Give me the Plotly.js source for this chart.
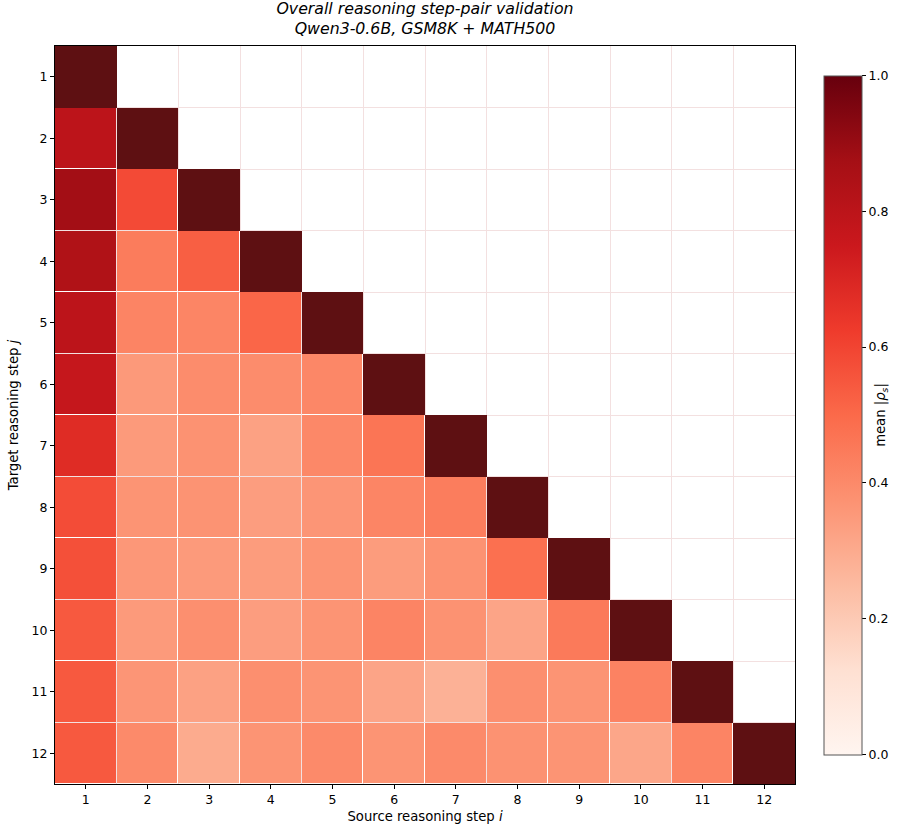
<!DOCTYPE html>
<html>
<head>
<meta charset="utf-8">
<script src="https://cdn.plot.ly/plotly-3.0.1.min.js"></script>
<style>html,body{margin:0;padding:0;background:#fff;}#chart{width:906px;height:829px;}</style>
</head>
<body>
<div id="chart"></div>
<script>
// Step labels
const sourceSteps = [1,2,3,4,5,6,7,8,9,10,11,12];
const targetSteps = [1,2,3,4,5,6,7,8,9,10,11,12];

// mean |rho_s| for each target step j (rows), source steps i < j (columns)
const row1  = [];
const row2  = [0.80];
const row3  = [0.88, 0.585];
const row4  = [0.84, 0.445, 0.53];
const row5  = [0.80, 0.42, 0.415, 0.51];
const row6  = [0.77, 0.355, 0.395, 0.395, 0.41];
const row7  = [0.68, 0.35, 0.375, 0.33, 0.405, 0.465];
const row8  = [0.58, 0.37, 0.373, 0.34, 0.365, 0.415, 0.44];
const row9  = [0.57, 0.36, 0.35, 0.345, 0.37, 0.345, 0.375, 0.48];
const row10 = [0.545, 0.35, 0.385, 0.34, 0.37, 0.42, 0.375, 0.32, 0.45];
const row11 = [0.545, 0.365, 0.33, 0.385, 0.37, 0.32, 0.28, 0.385, 0.37, 0.425];
const row12 = [0.545, 0.40, 0.30, 0.37, 0.40, 0.37, 0.40, 0.375, 0.37, 0.315, 0.42];

// Self-pair (diagonal) value
const diagValues = [1,1,1,1,1,1,1,1,1,1,1,1];

const rows = [row1,row2,row3,row4,row5,row6,row7,row8,row9,row10,row11,row12];
const n = sourceSteps.length;
const zLower = rows.map(r => sourceSteps.map((s, k) => k < r.length ? r[k] : null));
const zDiag = targetSteps.map((t, j) => sourceSteps.map((s, i) => i === j ? diagValues[j] : null));

const redsScale = [
  [0.0,'#fff5f0'],[0.125,'#fee0d2'],[0.25,'#fcbba1'],[0.375,'#fc9272'],
  [0.5,'#fb6a4a'],[0.625,'#ef3b2c'],[0.75,'#cb181d'],[0.875,'#a50f15'],[1.0,'#67000d']
];

const boundaries = [];
for (let k = 0; k <= n; k++) boundaries.push(k + 0.5);

const tickFont = {family: 'DejaVu Sans', size: 12.5, color: '#000'};
const labelFont = {family: 'DejaVu Sans', size: 13.2, color: '#000'};

const traces = [
  {
    type: 'heatmap', x: sourceSteps, y: targetSteps, z: zLower,
    colorscale: redsScale, zmin: 0, zmax: 1, xgap: 1, ygap: 1,
    hoverongaps: false,
    colorbar: {
      x: 1.039, xanchor: 'left', xref: 'paper', xpad: 0, ypad: 0,
      y: 0.5, yanchor: 'middle', len: 0.92, lenmode: 'fraction',
      thickness: 38, thicknessmode: 'pixels',
      outlinecolor: '#555', outlinewidth: 1,
      ticks: 'outside', ticklen: 4, tickcolor: '#000',
      tickvals: [0,0.2,0.4,0.6,0.8,1.0], ticktext: ['0.0','0.2','0.4','0.6','0.8','1.0'],
      tickfont: tickFont,
      title: {text: 'mean |<i>ρ<sub>s</sub></i>|', side: 'right', font: labelFont}
    }
  },
  {
    type: 'heatmap', x: sourceSteps, y: targetSteps, z: zDiag,
    colorscale: [[0,'#5e1012'],[1,'#5e1012']], zmin: 0, zmax: 1,
    showscale: false, xgap: 0, ygap: 0, hoverongaps: false
  }
];

const axisCommon = {
  tickmode: 'array', tickvals: sourceSteps, ticktext: sourceSteps.map(String),
  ticks: 'outside', ticklen: 4, tickcolor: '#000', tickwidth: 1,
  showgrid: false, zeroline: false,
  showline: true, linecolor: '#000', linewidth: 1, mirror: true,
  tickfont: tickFont,
  minor: {tickvals: boundaries, showgrid: true, gridcolor: '#f3e0e0', gridwidth: 1, ticks: ''}
};

const layout = {
  width: 906, height: 829,
  margin: {l: 55, r: 111, t: 46, b: 45, autoexpand: false},
  paper_bgcolor: '#fff', plot_bgcolor: '#fff',
  font: {family: 'DejaVu Sans', color: '#000'},
  title: {
    text: '<i>Overall reasoning step-pair validation</i><br><i>Qwen3-0.6B, GSM8K + MATH500</i>',
    font: {family: 'DejaVu Sans', size: 15.75, color: '#000'},
    x: 0.5, xref: 'paper', xanchor: 'center',
    y: 1, yref: 'paper', yanchor: 'bottom', pad: {b: 32}
  },
  xaxis: Object.assign({}, axisCommon, {
    range: [0.5, 12.5],
    title: {text: 'Source reasoning step <i>i</i>', font: labelFont, standoff: 5}
  }),
  yaxis: Object.assign({}, axisCommon, {
    range: [12.5, 0.5],
    title: {text: 'Target reasoning step <i>j</i>', font: labelFont, standoff: 9}
  })
};

Plotly.newPlot('chart', traces, layout, {displayModeBar: false, staticPlot: true});
</script>
</body>
</html>
